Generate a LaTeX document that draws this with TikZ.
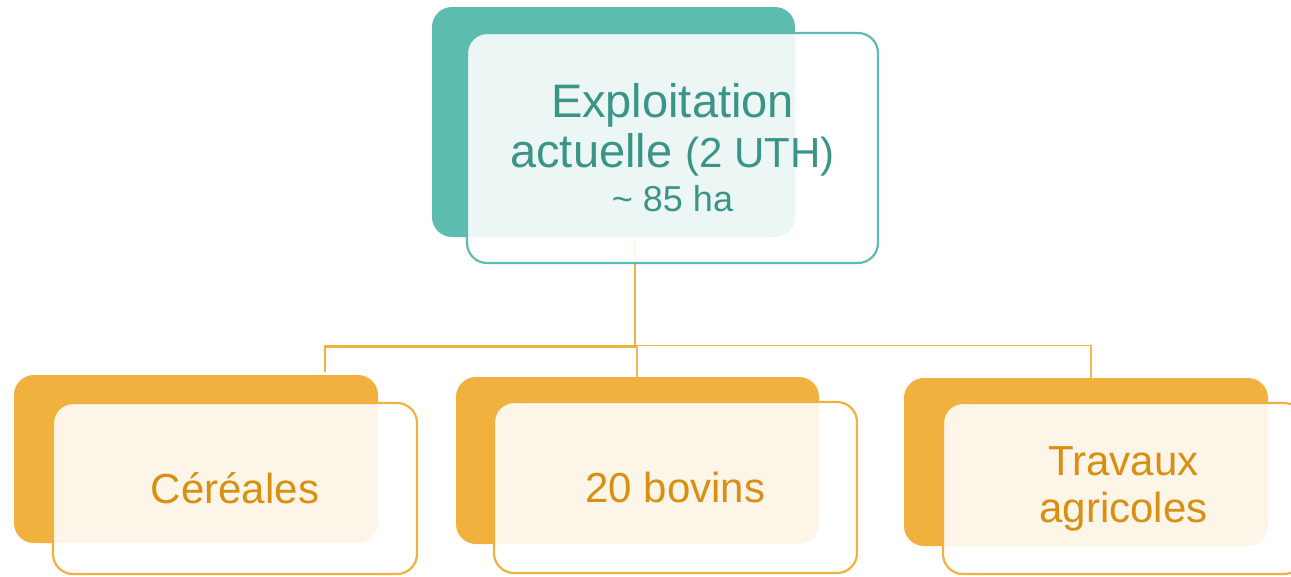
\documentclass[tikz,border=0pt]{standalone}
\usepackage{fontspec}
\setmainfont{Liberation Sans}
\definecolor{teal}{HTML}{5CBCB0}
\definecolor{tealtext}{HTML}{3A9587}
\definecolor{amber}{HTML}{F0B13F}
\definecolor{ambertext}{HTML}{D88F12}
\definecolor{amberlight}{HTML}{F2BA55}
\tikzset{
  backbox/.style={rectangle, rounded corners=20pt, inner sep=0pt, outer sep=0pt, fill=#1},
  frontbox/.style={rectangle, rounded corners=20pt, inner sep=0pt, outer sep=0pt,
    draw=#1, line width=2.2pt, fill=white, fill opacity=0.88, text opacity=1, align=center},
  link/.style={draw=amber, line width=2.4pt},
  thinlink/.style={draw=amberlight, line width=1.6pt},
}
\begin{document}
\begin{tikzpicture}[x=1pt, y=-1pt]
\useasboundingbox (0,0) rectangle (1291,576);

% back plates
\node[backbox=teal, minimum width=363pt, minimum height=230pt] (pback) at (613.5,122) {};
\node[backbox=amber, minimum width=364pt, minimum height=168pt] (aback) at (196,459) {};
\node[backbox=amber, minimum width=363pt, minimum height=167pt] (bback) at (637.5,460.5) {};
\node[backbox=amber, minimum width=364pt, minimum height=168pt] (cback) at (1086,462) {};

% tree connectors
\coordinate (trunk) at (634.7,240);
\coordinate (jleft) at (634.7,346.5);
\coordinate (aleft) at (325,346.5);
\coordinate (aend) at (325,372);
\coordinate (jright) at (637,345.5);
\coordinate (bend) at (637,377);
\coordinate (cright) at (1091,345.5);
\coordinate (cend) at (1091,378);
\draw[link] (trunk) -- (jleft) -- (aleft) -- (aend);
\draw[thinlink] (bend) -- (jright) -- (cright) -- (cend);

% front cards with labels
\node[frontbox=teal, minimum width=411pt, minimum height=230pt, text=tealtext,
      font=\fontsize{47}{50}\selectfont] (pfront) at (672.5,148)
  {Exploitation\\
   actuelle {\fontsize{42}{50}\selectfont(2 UTH)}\\[-6pt]
   {\fontsize{36}{44}\selectfont\textasciitilde{} 85 ha}};
\node[frontbox=amber, minimum width=364pt, minimum height=171pt, text=ambertext,
      font=\fontsize{42}{47}\selectfont] (afront) at (235,488.5) {Céréales};
\node[frontbox=amber, minimum width=363pt, minimum height=171pt, text=ambertext,
      font=\fontsize{42}{47}\selectfont] (bfront) at (675.5,487.5) {20 bovins};
\node[frontbox=amber, minimum width=361pt, minimum height=171pt, text=ambertext,
      font=\fontsize{42}{47}\selectfont] (cfront) at (1123.5,488.5) {Travaux\\agricoles};
\end{tikzpicture}
\end{document}
